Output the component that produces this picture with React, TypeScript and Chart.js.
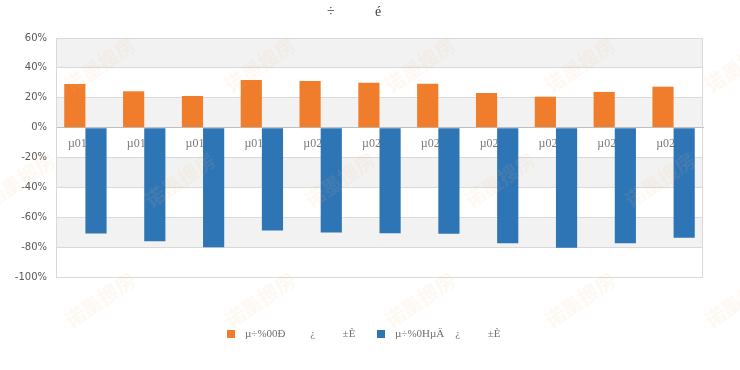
import React, { useEffect, useRef } from "react";
import { Chart, registerables } from "chart.js";

Chart.register(...registerables);

const categories = ["µ016%", "µ017%", "µ018%", "µ019%", "µ020%", "µ021%", "µ022%", "µ023%", "µ024%", "µ025%", "µ026%"];
const seriesNames = ["µ÷%00Ð         ¿          ±È", "µ÷%0НµÄ    ¿          ±È"];
const seriesA = [29.2, 24.3, 21.2, 31.9, 31.2, 30.1, 29.4, 23.2, 20.7, 23.9, 27.4];
const seriesB = [-70.9, -76.0, -80.0, -68.9, -70.2, -70.7, -71.1, -77.4, -80.5, -77.4, -73.8];
const titleParts = ["÷", "é"];
const yMin = -100;
const yMax = 60;
const yStep = 20;
const watermarkText = "诺墨搜房";

const COLORS = ["#EF7D2B", "#2E75B6"];

const decorPlugin = {
  id: "decor",
  beforeDraw(chart: any) {
    const { ctx, chartArea, scales } = chart;
    const y = scales.y;
    ctx.save();
    ctx.fillStyle = "#ffffff";
    ctx.fillRect(0, 0, chart.width, chart.height);
    ctx.fillStyle = "#F2F2F2";
    let idx = 0;
    for (let v = yMax; v > yMin; v -= yStep) {
      if (idx % 2 === 0) {
        const top = y.getPixelForValue(v);
        const bot = y.getPixelForValue(v - yStep);
        ctx.fillRect(chartArea.left, top, chartArea.right - chartArea.left, bot - top);
      }
      idx++;
    }
    ctx.restore();
  },
  beforeDatasetsDraw(chart: any) {
    const { ctx, chartArea } = chart;
    ctx.save();
    ctx.strokeStyle = "#D9D9D9";
    ctx.lineWidth = 1;
    ctx.strokeRect(
      Math.round(chartArea.left) + 0.5,
      Math.round(chartArea.top) + 0.5,
      Math.round(chartArea.right - chartArea.left) - 1,
      Math.round(chartArea.bottom - chartArea.top)
    );
    ctx.restore();
  },
  afterDraw(chart: any) {
    const { ctx, width } = chart;
    ctx.save();
    // title
    ctx.fillStyle = "#404040";
    ctx.font = "14px 'Liberation Serif'";
    ctx.textBaseline = "middle";
    ctx.textAlign = "center";
    ctx.fillText(titleParts[0], width * 0.447, 12);
    ctx.fillText(titleParts[1], width * 0.511, 12);

    // legend
    ctx.font = "11px 'Liberation Serif'";
    ctx.textAlign = "left";
    const ly = 334;
    const starts = [227, 377];
    chart.data.datasets.forEach((ds: any, i: number) => {
      ctx.fillStyle = ds.backgroundColor;
      ctx.fillRect(starts[i], ly - 4, 8, 8);
      ctx.fillStyle = "#6F6F6F";
      ctx.fillText(ds.label, starts[i] + 18, ly);
    });

    // watermark
    ctx.font = "bold 20px 'Noto Sans CJK SC'";
    ctx.fillStyle = "rgba(246, 190, 130, 0.10)";
    ctx.textAlign = "center";
    const rows = [65, 180, 300];
    rows.forEach((ry, r) => {
      for (let k = -1; k < 6; k++) {
        const rx = (r % 2 === 0 ? 100 : 180) + k * 160;
        ctx.save();
        ctx.translate(rx, ry);
        ctx.rotate(-0.6);
        ctx.fillText(watermarkText, 0, 0);
        ctx.restore();
      }
    });
    ctx.restore();
  },
};

export default function App() {
  const ref = useRef<HTMLCanvasElement | null>(null);
  useEffect(() => {
    if (!ref.current) return;
    const chart = new Chart(ref.current, {
      type: "bar",
      data: {
        labels: categories,
        datasets: [
          { label: seriesNames[0], data: seriesA, backgroundColor: COLORS[0], borderWidth: 0 },
          { label: seriesNames[1], data: seriesB, backgroundColor: COLORS[1], borderWidth: 0 },
        ],
      },
      options: {
        animation: false,
        responsive: false,
        devicePixelRatio: 1,
        layout: { padding: { left: 0, right: 37, top: 38, bottom: 93 } },
        plugins: {
          legend: { display: false },
          title: { display: false },
          tooltip: { enabled: false },
        },
        datasets: {
          bar: { categoryPercentage: 0.72, barPercentage: 1.0 },
        },
        scales: {
          x: {
            position: { y: 0 } as any,
            grid: { display: false, drawTicks: false },
            border: { display: true, color: "#BFBFBF", width: 1 },
            ticks: {
              color: "#7A7A7A",
              font: { family: "'Liberation Serif'", size: 12 },
              padding: 9,
              maxRotation: 0,
              autoSkip: false,
            },
          },
          y: {
            min: yMin,
            max: yMax,
            afterFit(scale: any) {
              scale.width = 56;
            },
            grid: { color: "#D9D9D9", drawTicks: false },
            border: { display: false },
            ticks: {
              stepSize: yStep,
              padding: 9,
              color: "#595959",
              font: { family: "'DejaVu Sans'", size: 10 },
              callback: (v: any) => `${v}%`,
            },
          },
        },
      },
      plugins: [decorPlugin],
    });
    return () => chart.destroy();
  }, []);
  return (
    <div style={{ position: "absolute", left: 0, top: 0, width: 740, height: 370 }}>
      <canvas ref={ref} width={740} height={370} />
    </div>
  );
}
